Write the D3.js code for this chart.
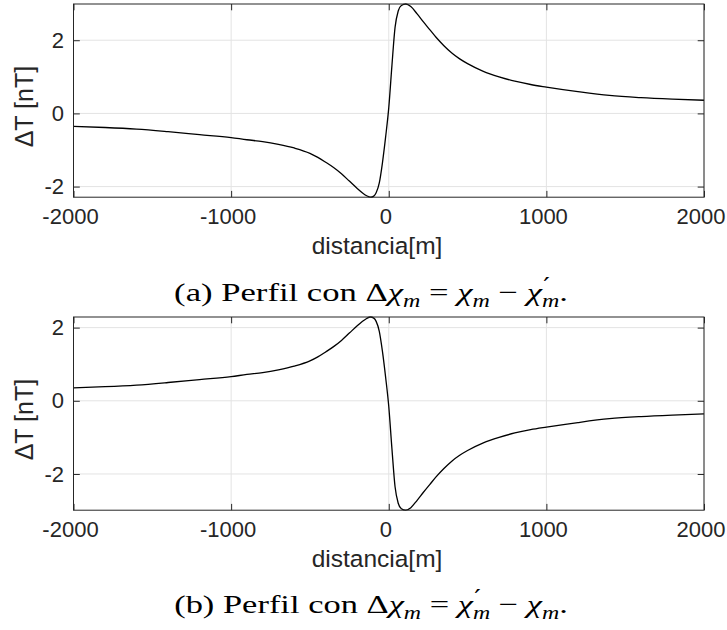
<!DOCTYPE html>
<html>
<head>
<meta charset="utf-8">
<script src="https://cdn.jsdelivr.net/npm/d3@7"></script>
<style>
  html, body { margin: 0; padding: 0; background: #fff; }
  svg { display: block; }
</style>
</head>
<body>
<svg id="fig" width="727" height="630"></svg>
<script>
// Profile positions along the line [m]
const distance = [-2000, -1800, -1600, -1400, -1200, -1000, -900, -800, -700, -600,
  -500, -450, -400, -350, -300, -250, -200, -170, -140, -116, -95, -80, -60, -40, -20, 0,
  20, 40, 60, 80, 108, 140, 180, 220, 260, 300, 350, 400, 450, 500, 600, 700, 800, 900,
  1000, 1200, 1400, 1600, 1800, 2000];

// Total-field anomaly [nT] for Δχm = χm − χ'm
const profileA = [-0.355, -0.385, -0.43, -0.50, -0.58, -0.66, -0.72, -0.77, -0.845, -0.945,
  -1.09, -1.20, -1.335, -1.48, -1.65, -1.85, -2.05, -2.16, -2.25, -2.29, -2.26, -2.17, -1.90, -1.35, -0.65, 0.15,
  1.30, 2.35, 2.80, 2.95, 2.99, 2.92, 2.72, 2.50, 2.29, 2.08, 1.85, 1.65, 1.49, 1.36, 1.15, 1.00, 0.88, 0.79,
  0.72, 0.595, 0.49, 0.43, 0.39, 0.36];

// Total-field anomaly [nT] for Δχm = χ'm − χm
const profileB = [0.355, 0.385, 0.43, 0.50, 0.58, 0.66, 0.72, 0.77, 0.845, 0.945,
  1.09, 1.20, 1.335, 1.48, 1.65, 1.85, 2.05, 2.16, 2.25, 2.29, 2.26, 2.17, 1.90, 1.35, 0.65, -0.15,
  -1.30, -2.35, -2.80, -2.95, -2.99, -2.92, -2.72, -2.50, -2.29, -2.08, -1.85, -1.65, -1.49, -1.36, -1.15, -1.00, -0.88, -0.79,
  -0.72, -0.595, -0.49, -0.43, -0.39, -0.36];

const xTicks = [-2000, -1000, 0, 1000, 2000];
const yTicks = [-2, 0, 2];
const xLabel = "distancia[m]";
const yLabel = "ΔT [nT]";

const svg = d3.select("#fig");
const ink = "#262626";
const gridColor = "#e3e3e3";
const sansFont = "'Liberation Sans', Arial, Helvetica, sans-serif";
const serifFont = "'Liberation Serif', 'Times New Roman', serif";

const left = 73.5, right = 704, plotH = 193.2;
const x = d3.scaleLinear().domain([-2000, 2000]).range([left, right]);

function drawPanel(top, values) {
  const bottom = top + plotH;
  const y = d3.scaleLinear().domain(d3.extent(values)).range([bottom, top]);
  const g = svg.append("g");

  // grid
  g.append("g").selectAll("line").data(xTicks).join("line")
    .attr("x1", d => x(d)).attr("x2", d => x(d)).attr("y1", top).attr("y2", bottom)
    .attr("stroke", gridColor).attr("stroke-width", 1);
  g.append("g").selectAll("line").data(yTicks).join("line")
    .attr("x1", left).attr("x2", right).attr("y1", d => y(d)).attr("y2", d => y(d))
    .attr("stroke", gridColor).attr("stroke-width", 1);

  // curve
  const line = d3.line().x((d, i) => x(distance[i])).y(d => y(d)).curve(d3.curveMonotoneX);
  g.append("path").datum(values).attr("d", line)
    .attr("fill", "none").attr("stroke", "#000").attr("stroke-width", 1.3);

  // axes with inward ticks on all four sides
  const tl = 6.3;
  const axB = g.append("g").attr("transform", `translate(0,${bottom})`)
    .call(d3.axisBottom(x).tickValues(xTicks).tickSizeInner(-tl).tickSizeOuter(0).tickPadding(11.5).tickFormat(d3.format("d")));
  const axT = g.append("g").attr("transform", `translate(0,${top})`)
    .call(d3.axisTop(x).tickValues(xTicks).tickSizeInner(-tl).tickSizeOuter(0).tickFormat(""));
  const axL = g.append("g").attr("transform", `translate(${left},0)`)
    .call(d3.axisLeft(y).tickValues(yTicks).tickSizeInner(-tl).tickSizeOuter(0).tickPadding(9.5).tickFormat(d3.format("d")));
  const axR = g.append("g").attr("transform", `translate(${right},0)`)
    .call(d3.axisRight(y).tickValues(yTicks).tickSizeInner(-tl).tickSizeOuter(0).tickFormat(""));
  [axB, axT, axL, axR].forEach(a => {
    a.select(".domain").remove();
    a.selectAll(".tick line").attr("stroke", ink).attr("stroke-width", 1);
    a.selectAll(".tick text").attr("fill", ink).style("font-family", sansFont).style("font-size", "22px");
  });
  axB.selectAll(".tick text").attr("dx", -3.5);
  // plain hyphen for negative tick values
  g.selectAll(".tick text").text(function () { return this.textContent.replace("−", "-"); });

  // box
  g.append("rect").attr("x", left).attr("y", top).attr("width", right - left).attr("height", plotH)
    .attr("fill", "none").attr("stroke", ink).attr("stroke-width", 1);

  // axis titles
  g.append("text").attr("x", 377).attr("y", bottom + 57)
    .attr("text-anchor", "middle").attr("fill", ink)
    .style("font-family", sansFont).style("font-size", "24.5px").text(xLabel);
  g.append("text").attr("transform", `translate(33,${(top + bottom) / 2 + 6}) rotate(-90)`)
    .attr("text-anchor", "middle").attr("fill", ink)
    .style("font-family", sansFont).style("font-size", "25px").text(yLabel);
  return bottom;
}

// Subfigure caption: "(x) Perfil con Δχm = ... ."
function caption(yBase, letter, firstPrimed) {
  const fs = 26, sub = 18, drop = 6;
  const t = svg.append("text").attr("x", 0).attr("y", yBase).attr("text-anchor", "middle")
    .attr("fill", "#000").style("font-family", serifFont).style("font-size", fs + "px");
  t.append("tspan").text(`(${letter}) Perfil con Δ`);
  let lift = 0;  // pending baseline correction for the next run of text
  const chi = (primed) => {
    t.append("tspan").attr("dy", lift).style("font-style", "italic").text("χ");
    if (primed) {
      t.append("tspan").attr("dx", 1).attr("dy", -8)
        .style("font-family", "'DejaVu Serif', serif").style("font-size", "22px").text("′");
      t.append("tspan").attr("dx", -6).attr("dy", 8 + drop)
        .style("font-size", sub + "px").style("font-style", "italic").text("m");
    } else {
      t.append("tspan").attr("dy", drop)
        .style("font-size", sub + "px").style("font-style", "italic").text("m");
    }
    lift = -drop;
  };
  const txt = (s) => { t.append("tspan").attr("dy", lift).text(s); lift = 0; };
  chi(false);
  txt(" = ");
  chi(firstPrimed);
  txt(" − ");
  chi(!firstPrimed);
  txt(".");
  const w = t.node().getBBox().width;
  t.attr("transform", `translate(371,0) scale(${394 / w},1)`);
}

const b1 = drawPanel(4, profileA);
caption(b1 + 104, "a", false);
const b2 = drawPanel(317, profileB);
caption(b2 + 103, "b", true);
</script>
</body>
</html>
